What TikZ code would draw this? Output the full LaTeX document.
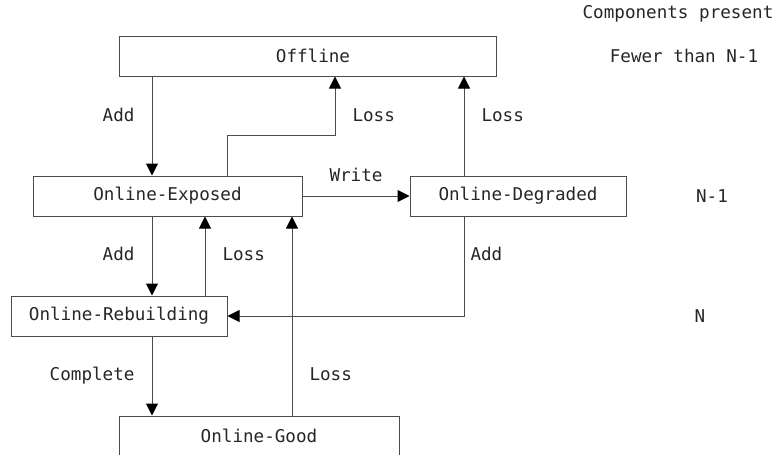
\documentclass[tikz,border=0pt]{standalone}
\usepackage{fontspec}
\setmonofont{DejaVu Sans Mono}
\usetikzlibrary{arrows.meta}
\newcommand{\diagfont}{\ttfamily\fontsize{17.6}{20}\selectfont}
\tikzstyle{state} = [rectangle, minimum height=40pt, inner sep=0pt,
    text centered, draw=black!70, line width=1pt, text=black!85, font=\diagfont]
\tikzstyle{edgetext} = [inner sep=0pt, text=black!85, font=\diagfont]
\tikzstyle{arrow} = [line width=1pt, draw=black!70,
    -{Triangle[length=12pt,width=12pt,color=black]}]

\begin{document}
\begin{tikzpicture}[x=1pt, y=-1pt, node distance=120pt]
            \useasboundingbox (0,0) rectangle (782,455);
            \node (offline) [state, minimum width=377pt] at (307.5,56) {\hspace{11pt}Offline};
            \node (exposed) [state, minimum width=269pt, below of=offline, xshift=-140pt, yshift=-20pt] {Online-Exposed\hspace{21pt}};
            \node (degraded) [state, minimum width=216pt, right of=exposed, xshift=230.5pt] {Online-Degraded};
            \node (rebuild) [state, minimum width=216pt, below of=exposed, xshift=-48.5pt] {Online-Rebuilding};
            \node (good) [state, minimum width=280pt, below of=rebuild, xshift=140pt] {Online-Good\hspace{22pt}};

            % components present column
            \node (present) [edgetext] at (678,14) {Components present};
            \node (fewer) [edgetext] at (684,56) {Fewer than N-1};
            \node (nminus) [edgetext] at (712,196) {N-1};
            \node (nfull) [edgetext] at (700,316) {N};

            \draw [arrow] ([xshift=-155.5pt]offline.south) -- ([xshift=-15.5pt]exposed.north) node[pos=0.39, left=17pt, edgetext] {Add};
            \draw [arrow] ([xshift=59.5pt]exposed.north) -- ++(0,-40) -| ([xshift=27.5pt]offline.south) node[pos=0.675, right=17pt, edgetext] {Loss};
            \draw [arrow] ([xshift=-54pt]degraded.north) -- ([xshift=-54pt]degraded.north |- offline.south) node[pos=0.61, right=17pt, edgetext] {Loss};
            \draw [arrow] (exposed.east) -- (degraded.west) node[midway, above=14pt, edgetext] {Write};
            \draw [arrow] ([xshift=-15.5pt]exposed.south) -- ([xshift=-15.5pt]exposed.south |- rebuild.north) node[pos=0.475, left=17pt, edgetext] {Add};
            \draw [arrow] ([xshift=86pt]rebuild.north) -- ([xshift=86pt]rebuild.north |- exposed.south) node[pos=0.525, right=17pt, edgetext] {Loss};
            \draw [arrow] ([xshift=33pt]good.north) -- ([xshift=33pt]good.north |- exposed.south) node[pos=0.205, right=17pt, edgetext] {Loss};
            \draw [arrow] ([xshift=-54pt]degraded.south) |- (rebuild.east) node[pos=0.19, right=6pt, edgetext] {Add};
            \draw [arrow] ([xshift=33pt]rebuild.south) -- ([xshift=33pt]rebuild.south |- good.north) node[pos=0.49, left=17pt, edgetext] {Complete};
        \end{tikzpicture}
\end{document}
